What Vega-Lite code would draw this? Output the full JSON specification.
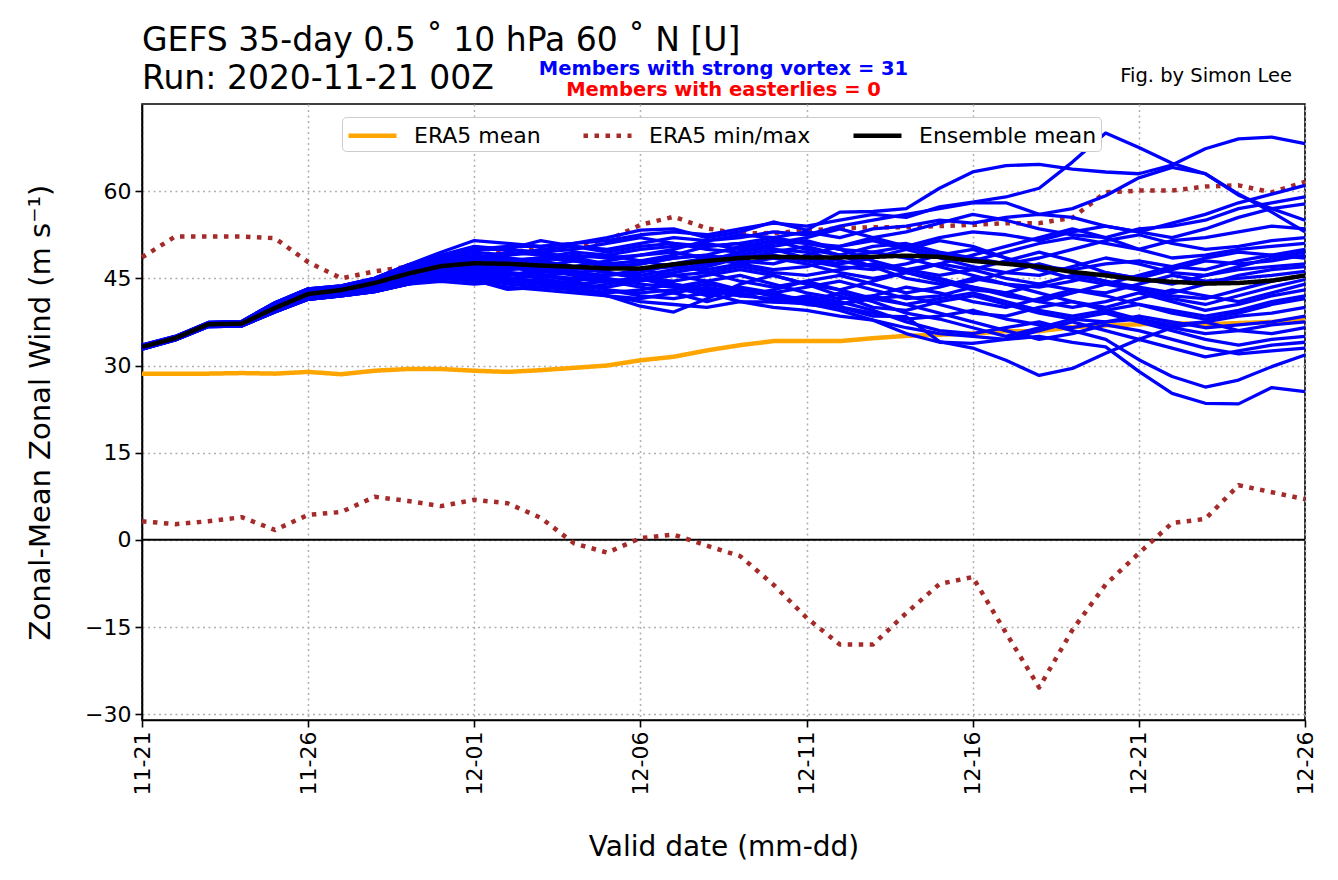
{
"$schema": "https://vega.github.io/schema/vega-lite/v6.json",
"width": 1163,
"height": 616,
"autosize": {"type": "none"},
"padding": {"left": 142, "top": 104, "right": 33, "bottom": 160},
"background": "white",
"config": {
  "font": "DejaVu Sans",
  "view": {"stroke": "black", "strokeWidth": 1.6},
  "axis": {"domainColor": "black", "domainWidth": 1.6, "tickColor": "black", "tickWidth": 1.6, "tickSize": 7, "labelFontSize": 22, "labelColor": "black", "labelFont": "DejaVu Sans", "titleFont": "DejaVu Sans", "titleFontSize": 28, "titleFontWeight": "normal", "titleColor": "black", "gridColor": "#b0b0b0", "gridDash": [2, 3.5], "gridWidth": 1.5, "labelPadding": 4}
},
"title": {"text": ["GEFS 35-day 0.5 \u02da 10 hPa 60 \u02da N [U]", "Run: 2020-11-21 00Z"], "anchor": "start", "frame": "group", "fontSize": 33, "fontWeight": "normal", "font": "DejaVu Sans", "color": "black", "lineHeight": 38, "offset": -37},
"datasets": {
"stats": [
{"series":"ERA5 mean","line":"ERA5 mean","date":"2020-11-21","u":28.6},{"series":"ERA5 mean","line":"ERA5 mean","date":"2020-11-22","u":28.6},{"series":"ERA5 mean","line":"ERA5 mean","date":"2020-11-23","u":28.6},{"series":"ERA5 mean","line":"ERA5 mean","date":"2020-11-24","u":28.7},{"series":"ERA5 mean","line":"ERA5 mean","date":"2020-11-25","u":28.6},{"series":"ERA5 mean","line":"ERA5 mean","date":"2020-11-26","u":28.9},{"series":"ERA5 mean","line":"ERA5 mean","date":"2020-11-27","u":28.5},{"series":"ERA5 mean","line":"ERA5 mean","date":"2020-11-28","u":29.1},{"series":"ERA5 mean","line":"ERA5 mean","date":"2020-11-29","u":29.4},{"series":"ERA5 mean","line":"ERA5 mean","date":"2020-11-30","u":29.4},{"series":"ERA5 mean","line":"ERA5 mean","date":"2020-12-01","u":29.1},{"series":"ERA5 mean","line":"ERA5 mean","date":"2020-12-02","u":28.9},{"series":"ERA5 mean","line":"ERA5 mean","date":"2020-12-03","u":29.2},{"series":"ERA5 mean","line":"ERA5 mean","date":"2020-12-04","u":29.6},{"series":"ERA5 mean","line":"ERA5 mean","date":"2020-12-05","u":30.0},{"series":"ERA5 mean","line":"ERA5 mean","date":"2020-12-06","u":30.9},{"series":"ERA5 mean","line":"ERA5 mean","date":"2020-12-07","u":31.5},{"series":"ERA5 mean","line":"ERA5 mean","date":"2020-12-08","u":32.6},{"series":"ERA5 mean","line":"ERA5 mean","date":"2020-12-09","u":33.5},{"series":"ERA5 mean","line":"ERA5 mean","date":"2020-12-10","u":34.2},{"series":"ERA5 mean","line":"ERA5 mean","date":"2020-12-11","u":34.2},{"series":"ERA5 mean","line":"ERA5 mean","date":"2020-12-12","u":34.2},{"series":"ERA5 mean","line":"ERA5 mean","date":"2020-12-13","u":34.7},{"series":"ERA5 mean","line":"ERA5 mean","date":"2020-12-14","u":35.1},{"series":"ERA5 mean","line":"ERA5 mean","date":"2020-12-15","u":35.3},{"series":"ERA5 mean","line":"ERA5 mean","date":"2020-12-16","u":35.5},{"series":"ERA5 mean","line":"ERA5 mean","date":"2020-12-17","u":35.9},{"series":"ERA5 mean","line":"ERA5 mean","date":"2020-12-18","u":35.9},{"series":"ERA5 mean","line":"ERA5 mean","date":"2020-12-19","u":36.6},{"series":"ERA5 mean","line":"ERA5 mean","date":"2020-12-20","u":36.9},{"series":"ERA5 mean","line":"ERA5 mean","date":"2020-12-21","u":37.1},{"series":"ERA5 mean","line":"ERA5 mean","date":"2020-12-22","u":37.3},{"series":"ERA5 mean","line":"ERA5 mean","date":"2020-12-23","u":37.1},{"series":"ERA5 mean","line":"ERA5 mean","date":"2020-12-24","u":37.3},{"series":"ERA5 mean","line":"ERA5 mean","date":"2020-12-25","u":37.5},{"series":"ERA5 mean","line":"ERA5 mean","date":"2020-12-26","u":37.8},
{"series":"ERA5 min/max","line":"ERA5 min","date":"2020-11-21","u":3.2},{"series":"ERA5 min/max","line":"ERA5 min","date":"2020-11-22","u":2.7},{"series":"ERA5 min/max","line":"ERA5 min","date":"2020-11-23","u":3.2},{"series":"ERA5 min/max","line":"ERA5 min","date":"2020-11-24","u":3.9},{"series":"ERA5 min/max","line":"ERA5 min","date":"2020-11-25","u":1.7},{"series":"ERA5 min/max","line":"ERA5 min","date":"2020-11-26","u":4.3},{"series":"ERA5 min/max","line":"ERA5 min","date":"2020-11-27","u":4.8},{"series":"ERA5 min/max","line":"ERA5 min","date":"2020-11-28","u":7.4},{"series":"ERA5 min/max","line":"ERA5 min","date":"2020-11-29","u":6.7},{"series":"ERA5 min/max","line":"ERA5 min","date":"2020-11-30","u":5.8},{"series":"ERA5 min/max","line":"ERA5 min","date":"2020-12-01","u":6.9},{"series":"ERA5 min/max","line":"ERA5 min","date":"2020-12-02","u":6.3},{"series":"ERA5 min/max","line":"ERA5 min","date":"2020-12-03","u":3.8},{"series":"ERA5 min/max","line":"ERA5 min","date":"2020-12-04","u":-0.6},{"series":"ERA5 min/max","line":"ERA5 min","date":"2020-12-05","u":-2.2},{"series":"ERA5 min/max","line":"ERA5 min","date":"2020-12-06","u":0.3},{"series":"ERA5 min/max","line":"ERA5 min","date":"2020-12-07","u":0.9},{"series":"ERA5 min/max","line":"ERA5 min","date":"2020-12-08","u":-1.0},{"series":"ERA5 min/max","line":"ERA5 min","date":"2020-12-09","u":-2.8},{"series":"ERA5 min/max","line":"ERA5 min","date":"2020-12-10","u":-7.7},{"series":"ERA5 min/max","line":"ERA5 min","date":"2020-12-11","u":-13.4},{"series":"ERA5 min/max","line":"ERA5 min","date":"2020-12-12","u":-18.0},{"series":"ERA5 min/max","line":"ERA5 min","date":"2020-12-13","u":-18.0},{"series":"ERA5 min/max","line":"ERA5 min","date":"2020-12-14","u":-12.6},{"series":"ERA5 min/max","line":"ERA5 min","date":"2020-12-15","u":-7.6},{"series":"ERA5 min/max","line":"ERA5 min","date":"2020-12-16","u":-6.4},{"series":"ERA5 min/max","line":"ERA5 min","date":"2020-12-17","u":-16.0},{"series":"ERA5 min/max","line":"ERA5 min","date":"2020-12-18","u":-25.4},{"series":"ERA5 min/max","line":"ERA5 min","date":"2020-12-19","u":-15.5},{"series":"ERA5 min/max","line":"ERA5 min","date":"2020-12-20","u":-7.7},{"series":"ERA5 min/max","line":"ERA5 min","date":"2020-12-21","u":-2.3},{"series":"ERA5 min/max","line":"ERA5 min","date":"2020-12-22","u":2.9},{"series":"ERA5 min/max","line":"ERA5 min","date":"2020-12-23","u":3.6},{"series":"ERA5 min/max","line":"ERA5 min","date":"2020-12-24","u":9.4},{"series":"ERA5 min/max","line":"ERA5 min","date":"2020-12-25","u":8.2},{"series":"ERA5 min/max","line":"ERA5 min","date":"2020-12-26","u":7.0},
{"series":"ERA5 min/max","line":"ERA5 max","date":"2020-11-21","u":48.6},{"series":"ERA5 min/max","line":"ERA5 max","date":"2020-11-22","u":52.2},{"series":"ERA5 min/max","line":"ERA5 max","date":"2020-11-23","u":52.2},{"series":"ERA5 min/max","line":"ERA5 max","date":"2020-11-24","u":52.2},{"series":"ERA5 min/max","line":"ERA5 max","date":"2020-11-25","u":51.9},{"series":"ERA5 min/max","line":"ERA5 max","date":"2020-11-26","u":47.8},{"series":"ERA5 min/max","line":"ERA5 max","date":"2020-11-27","u":45.0},{"series":"ERA5 min/max","line":"ERA5 max","date":"2020-11-28","u":46.2},{"series":"ERA5 min/max","line":"ERA5 max","date":"2020-11-29","u":47.0},{"series":"ERA5 min/max","line":"ERA5 max","date":"2020-11-30","u":48.0},{"series":"ERA5 min/max","line":"ERA5 max","date":"2020-12-01","u":49.0},{"series":"ERA5 min/max","line":"ERA5 max","date":"2020-12-02","u":49.5},{"series":"ERA5 min/max","line":"ERA5 max","date":"2020-12-03","u":50.0},{"series":"ERA5 min/max","line":"ERA5 max","date":"2020-12-04","u":50.5},{"series":"ERA5 min/max","line":"ERA5 max","date":"2020-12-05","u":51.5},{"series":"ERA5 min/max","line":"ERA5 max","date":"2020-12-06","u":54.2},{"series":"ERA5 min/max","line":"ERA5 max","date":"2020-12-07","u":55.6},{"series":"ERA5 min/max","line":"ERA5 max","date":"2020-12-08","u":53.6},{"series":"ERA5 min/max","line":"ERA5 max","date":"2020-12-09","u":52.7},{"series":"ERA5 min/max","line":"ERA5 max","date":"2020-12-10","u":52.8},{"series":"ERA5 min/max","line":"ERA5 max","date":"2020-12-11","u":53.2},{"series":"ERA5 min/max","line":"ERA5 max","date":"2020-12-12","u":53.6},{"series":"ERA5 min/max","line":"ERA5 max","date":"2020-12-13","u":53.8},{"series":"ERA5 min/max","line":"ERA5 max","date":"2020-12-14","u":53.8},{"series":"ERA5 min/max","line":"ERA5 max","date":"2020-12-15","u":54.0},{"series":"ERA5 min/max","line":"ERA5 max","date":"2020-12-16","u":54.2},{"series":"ERA5 min/max","line":"ERA5 max","date":"2020-12-17","u":54.5},{"series":"ERA5 min/max","line":"ERA5 max","date":"2020-12-18","u":54.5},{"series":"ERA5 min/max","line":"ERA5 max","date":"2020-12-19","u":55.4},{"series":"ERA5 min/max","line":"ERA5 max","date":"2020-12-20","u":59.8},{"series":"ERA5 min/max","line":"ERA5 max","date":"2020-12-21","u":60.1},{"series":"ERA5 min/max","line":"ERA5 max","date":"2020-12-22","u":60.1},{"series":"ERA5 min/max","line":"ERA5 max","date":"2020-12-23","u":60.8},{"series":"ERA5 min/max","line":"ERA5 max","date":"2020-12-24","u":61.0},{"series":"ERA5 min/max","line":"ERA5 max","date":"2020-12-25","u":59.8},{"series":"ERA5 min/max","line":"ERA5 max","date":"2020-12-26","u":61.6},
{"series":"Ensemble mean","line":"Ensemble mean","date":"2020-11-21","u":33.2},{"series":"Ensemble mean","line":"Ensemble mean","date":"2020-11-22","u":34.7},{"series":"Ensemble mean","line":"Ensemble mean","date":"2020-11-23","u":37.1},{"series":"Ensemble mean","line":"Ensemble mean","date":"2020-11-24","u":37.2},{"series":"Ensemble mean","line":"Ensemble mean","date":"2020-11-25","u":39.9},{"series":"Ensemble mean","line":"Ensemble mean","date":"2020-11-26","u":42.3},{"series":"Ensemble mean","line":"Ensemble mean","date":"2020-11-27","u":43.0},{"series":"Ensemble mean","line":"Ensemble mean","date":"2020-11-28","u":44.2},{"series":"Ensemble mean","line":"Ensemble mean","date":"2020-11-29","u":45.8},{"series":"Ensemble mean","line":"Ensemble mean","date":"2020-11-30","u":47.1},{"series":"Ensemble mean","line":"Ensemble mean","date":"2020-12-01","u":47.6},{"series":"Ensemble mean","line":"Ensemble mean","date":"2020-12-02","u":47.5},{"series":"Ensemble mean","line":"Ensemble mean","date":"2020-12-03","u":47.2},{"series":"Ensemble mean","line":"Ensemble mean","date":"2020-12-04","u":47.0},{"series":"Ensemble mean","line":"Ensemble mean","date":"2020-12-05","u":46.7},{"series":"Ensemble mean","line":"Ensemble mean","date":"2020-12-06","u":46.7},{"series":"Ensemble mean","line":"Ensemble mean","date":"2020-12-07","u":47.4},{"series":"Ensemble mean","line":"Ensemble mean","date":"2020-12-08","u":48.0},{"series":"Ensemble mean","line":"Ensemble mean","date":"2020-12-09","u":48.5},{"series":"Ensemble mean","line":"Ensemble mean","date":"2020-12-10","u":48.7},{"series":"Ensemble mean","line":"Ensemble mean","date":"2020-12-11","u":48.6},{"series":"Ensemble mean","line":"Ensemble mean","date":"2020-12-12","u":48.6},{"series":"Ensemble mean","line":"Ensemble mean","date":"2020-12-13","u":48.7},{"series":"Ensemble mean","line":"Ensemble mean","date":"2020-12-14","u":48.9},{"series":"Ensemble mean","line":"Ensemble mean","date":"2020-12-15","u":48.7},{"series":"Ensemble mean","line":"Ensemble mean","date":"2020-12-16","u":48.0},{"series":"Ensemble mean","line":"Ensemble mean","date":"2020-12-17","u":47.5},{"series":"Ensemble mean","line":"Ensemble mean","date":"2020-12-18","u":47.0},{"series":"Ensemble mean","line":"Ensemble mean","date":"2020-12-19","u":46.1},{"series":"Ensemble mean","line":"Ensemble mean","date":"2020-12-20","u":45.5},{"series":"Ensemble mean","line":"Ensemble mean","date":"2020-12-21","u":44.8},{"series":"Ensemble mean","line":"Ensemble mean","date":"2020-12-22","u":44.4},{"series":"Ensemble mean","line":"Ensemble mean","date":"2020-12-23","u":44.1},{"series":"Ensemble mean","line":"Ensemble mean","date":"2020-12-24","u":44.2},{"series":"Ensemble mean","line":"Ensemble mean","date":"2020-12-25","u":44.6},{"series":"Ensemble mean","line":"Ensemble mean","date":"2020-12-26","u":45.5}
],
"members": [
{"m":1,"date":"2020-11-21","u":33.5},{"m":1,"date":"2020-11-22","u":35.0},{"m":1,"date":"2020-11-23","u":37.4},{"m":1,"date":"2020-11-24","u":37.6},{"m":1,"date":"2020-11-25","u":40.8},{"m":1,"date":"2020-11-26","u":43.2},{"m":1,"date":"2020-11-27","u":43.7},{"m":1,"date":"2020-11-28","u":45.0},{"m":1,"date":"2020-11-29","u":47.3},{"m":1,"date":"2020-11-30","u":48.5},{"m":1,"date":"2020-12-01","u":50.0},{"m":1,"date":"2020-12-02","u":50.5},{"m":1,"date":"2020-12-03","u":50.5},{"m":1,"date":"2020-12-04","u":51.0},{"m":1,"date":"2020-12-05","u":51.5},{"m":1,"date":"2020-12-06","u":52.5},{"m":1,"date":"2020-12-07","u":53.0},{"m":1,"date":"2020-12-08","u":52.5},{"m":1,"date":"2020-12-09","u":53.5},{"m":1,"date":"2020-12-10","u":54.5},{"m":1,"date":"2020-12-11","u":54.0},{"m":1,"date":"2020-12-12","u":55.0},{"m":1,"date":"2020-12-13","u":56.0},{"m":1,"date":"2020-12-14","u":55.5},{"m":1,"date":"2020-12-15","u":57.3},{"m":1,"date":"2020-12-16","u":58.1},{"m":1,"date":"2020-12-17","u":59.0},{"m":1,"date":"2020-12-18","u":60.5},{"m":1,"date":"2020-12-19","u":65.0},{"m":1,"date":"2020-12-20","u":70.0},{"m":1,"date":"2020-12-21","u":67.5},{"m":1,"date":"2020-12-22","u":64.8},{"m":1,"date":"2020-12-23","u":63.0},{"m":1,"date":"2020-12-24","u":59.3},{"m":1,"date":"2020-12-25","u":57.0},{"m":1,"date":"2020-12-26","u":55.0},
{"m":2,"date":"2020-11-21","u":33.5},{"m":2,"date":"2020-11-22","u":35.0},{"m":2,"date":"2020-11-23","u":37.4},{"m":2,"date":"2020-11-24","u":37.6},{"m":2,"date":"2020-11-25","u":40.8},{"m":2,"date":"2020-11-26","u":43.2},{"m":2,"date":"2020-11-27","u":43.7},{"m":2,"date":"2020-11-28","u":45.0},{"m":2,"date":"2020-11-29","u":47.3},{"m":2,"date":"2020-11-30","u":49.5},{"m":2,"date":"2020-12-01","u":51.5},{"m":2,"date":"2020-12-02","u":51.0},{"m":2,"date":"2020-12-03","u":50.5},{"m":2,"date":"2020-12-04","u":51.0},{"m":2,"date":"2020-12-05","u":52.0},{"m":2,"date":"2020-12-06","u":53.3},{"m":2,"date":"2020-12-07","u":53.5},{"m":2,"date":"2020-12-08","u":52.0},{"m":2,"date":"2020-12-09","u":53.0},{"m":2,"date":"2020-12-10","u":54.7},{"m":2,"date":"2020-12-11","u":53.3},{"m":2,"date":"2020-12-12","u":56.4},{"m":2,"date":"2020-12-13","u":56.5},{"m":2,"date":"2020-12-14","u":57.0},{"m":2,"date":"2020-12-15","u":60.5},{"m":2,"date":"2020-12-16","u":63.3},{"m":2,"date":"2020-12-17","u":64.4},{"m":2,"date":"2020-12-18","u":64.6},{"m":2,"date":"2020-12-19","u":63.8},{"m":2,"date":"2020-12-20","u":63.3},{"m":2,"date":"2020-12-21","u":63.0},{"m":2,"date":"2020-12-22","u":64.5},{"m":2,"date":"2020-12-23","u":67.3},{"m":2,"date":"2020-12-24","u":69.0},{"m":2,"date":"2020-12-25","u":69.3},{"m":2,"date":"2020-12-26","u":68.2},
{"m":3,"date":"2020-11-21","u":33.4},{"m":3,"date":"2020-11-22","u":34.9},{"m":3,"date":"2020-11-23","u":37.3},{"m":3,"date":"2020-11-24","u":37.5},{"m":3,"date":"2020-11-25","u":40.6},{"m":3,"date":"2020-11-26","u":43.0},{"m":3,"date":"2020-11-27","u":43.5},{"m":3,"date":"2020-11-28","u":44.8},{"m":3,"date":"2020-11-29","u":46.9},{"m":3,"date":"2020-11-30","u":48.0},{"m":3,"date":"2020-12-01","u":49.5},{"m":3,"date":"2020-12-02","u":49.0},{"m":3,"date":"2020-12-03","u":50.0},{"m":3,"date":"2020-12-04","u":50.5},{"m":3,"date":"2020-12-05","u":50.0},{"m":3,"date":"2020-12-06","u":51.0},{"m":3,"date":"2020-12-07","u":52.0},{"m":3,"date":"2020-12-08","u":51.5},{"m":3,"date":"2020-12-09","u":52.0},{"m":3,"date":"2020-12-10","u":53.0},{"m":3,"date":"2020-12-11","u":52.5},{"m":3,"date":"2020-12-12","u":54.0},{"m":3,"date":"2020-12-13","u":55.0},{"m":3,"date":"2020-12-14","u":56.0},{"m":3,"date":"2020-12-15","u":57.0},{"m":3,"date":"2020-12-16","u":58.0},{"m":3,"date":"2020-12-17","u":58.0},{"m":3,"date":"2020-12-18","u":56.0},{"m":3,"date":"2020-12-19","u":57.0},{"m":3,"date":"2020-12-20","u":59.2},{"m":3,"date":"2020-12-21","u":62.3},{"m":3,"date":"2020-12-22","u":64.1},{"m":3,"date":"2020-12-23","u":63.0},{"m":3,"date":"2020-12-24","u":59.5},{"m":3,"date":"2020-12-25","u":56.4},{"m":3,"date":"2020-12-26","u":53.0},
{"m":4,"date":"2020-11-21","u":33.3},{"m":4,"date":"2020-11-22","u":34.8},{"m":4,"date":"2020-11-23","u":37.2},{"m":4,"date":"2020-11-24","u":37.4},{"m":4,"date":"2020-11-25","u":40.4},{"m":4,"date":"2020-11-26","u":42.7},{"m":4,"date":"2020-11-27","u":43.3},{"m":4,"date":"2020-11-28","u":44.6},{"m":4,"date":"2020-11-29","u":46.5},{"m":4,"date":"2020-11-30","u":48.5},{"m":4,"date":"2020-12-01","u":50.0},{"m":4,"date":"2020-12-02","u":50.0},{"m":4,"date":"2020-12-03","u":49.5},{"m":4,"date":"2020-12-04","u":50.0},{"m":4,"date":"2020-12-05","u":51.0},{"m":4,"date":"2020-12-06","u":52.0},{"m":4,"date":"2020-12-07","u":51.0},{"m":4,"date":"2020-12-08","u":50.5},{"m":4,"date":"2020-12-09","u":51.0},{"m":4,"date":"2020-12-10","u":52.0},{"m":4,"date":"2020-12-11","u":53.0},{"m":4,"date":"2020-12-12","u":52.0},{"m":4,"date":"2020-12-13","u":53.5},{"m":4,"date":"2020-12-14","u":54.0},{"m":4,"date":"2020-12-15","u":55.0},{"m":4,"date":"2020-12-16","u":54.5},{"m":4,"date":"2020-12-17","u":55.5},{"m":4,"date":"2020-12-18","u":56.0},{"m":4,"date":"2020-12-19","u":55.5},{"m":4,"date":"2020-12-20","u":54.0},{"m":4,"date":"2020-12-21","u":53.0},{"m":4,"date":"2020-12-22","u":54.5},{"m":4,"date":"2020-12-23","u":56.0},{"m":4,"date":"2020-12-24","u":58.0},{"m":4,"date":"2020-12-25","u":59.5},{"m":4,"date":"2020-12-26","u":61.0},
{"m":5,"date":"2020-11-21","u":33.4},{"m":5,"date":"2020-11-22","u":34.9},{"m":5,"date":"2020-11-23","u":37.3},{"m":5,"date":"2020-11-24","u":37.5},{"m":5,"date":"2020-11-25","u":40.6},{"m":5,"date":"2020-11-26","u":43.0},{"m":5,"date":"2020-11-27","u":43.5},{"m":5,"date":"2020-11-28","u":44.8},{"m":5,"date":"2020-11-29","u":46.9},{"m":5,"date":"2020-11-30","u":47.5},{"m":5,"date":"2020-12-01","u":48.5},{"m":5,"date":"2020-12-02","u":49.0},{"m":5,"date":"2020-12-03","u":49.5},{"m":5,"date":"2020-12-04","u":48.5},{"m":5,"date":"2020-12-05","u":49.0},{"m":5,"date":"2020-12-06","u":50.0},{"m":5,"date":"2020-12-07","u":50.5},{"m":5,"date":"2020-12-08","u":51.0},{"m":5,"date":"2020-12-09","u":50.0},{"m":5,"date":"2020-12-10","u":51.5},{"m":5,"date":"2020-12-11","u":51.0},{"m":5,"date":"2020-12-12","u":50.5},{"m":5,"date":"2020-12-13","u":52.0},{"m":5,"date":"2020-12-14","u":53.0},{"m":5,"date":"2020-12-15","u":54.5},{"m":5,"date":"2020-12-16","u":56.0},{"m":5,"date":"2020-12-17","u":55.0},{"m":5,"date":"2020-12-18","u":53.5},{"m":5,"date":"2020-12-19","u":52.5},{"m":5,"date":"2020-12-20","u":52.0},{"m":5,"date":"2020-12-21","u":53.5},{"m":5,"date":"2020-12-22","u":54.0},{"m":5,"date":"2020-12-23","u":55.0},{"m":5,"date":"2020-12-24","u":57.0},{"m":5,"date":"2020-12-25","u":58.0},{"m":5,"date":"2020-12-26","u":59.0},
{"m":6,"date":"2020-11-21","u":33.3},{"m":6,"date":"2020-11-22","u":34.8},{"m":6,"date":"2020-11-23","u":37.2},{"m":6,"date":"2020-11-24","u":37.3},{"m":6,"date":"2020-11-25","u":40.2},{"m":6,"date":"2020-11-26","u":42.5},{"m":6,"date":"2020-11-27","u":43.1},{"m":6,"date":"2020-11-28","u":44.3},{"m":6,"date":"2020-11-29","u":46.1},{"m":6,"date":"2020-11-30","u":47.0},{"m":6,"date":"2020-12-01","u":48.0},{"m":6,"date":"2020-12-02","u":48.5},{"m":6,"date":"2020-12-03","u":48.0},{"m":6,"date":"2020-12-04","u":49.0},{"m":6,"date":"2020-12-05","u":48.5},{"m":6,"date":"2020-12-06","u":49.0},{"m":6,"date":"2020-12-07","u":50.0},{"m":6,"date":"2020-12-08","u":51.5},{"m":6,"date":"2020-12-09","u":52.5},{"m":6,"date":"2020-12-10","u":52.0},{"m":6,"date":"2020-12-11","u":51.0},{"m":6,"date":"2020-12-12","u":50.0},{"m":6,"date":"2020-12-13","u":49.5},{"m":6,"date":"2020-12-14","u":50.5},{"m":6,"date":"2020-12-15","u":52.0},{"m":6,"date":"2020-12-16","u":53.0},{"m":6,"date":"2020-12-17","u":52.5},{"m":6,"date":"2020-12-18","u":51.5},{"m":6,"date":"2020-12-19","u":53.0},{"m":6,"date":"2020-12-20","u":54.0},{"m":6,"date":"2020-12-21","u":53.0},{"m":6,"date":"2020-12-22","u":52.0},{"m":6,"date":"2020-12-23","u":53.5},{"m":6,"date":"2020-12-24","u":55.5},{"m":6,"date":"2020-12-25","u":57.0},{"m":6,"date":"2020-12-26","u":57.8},
{"m":7,"date":"2020-11-21","u":33.5},{"m":7,"date":"2020-11-22","u":35.0},{"m":7,"date":"2020-11-23","u":37.4},{"m":7,"date":"2020-11-24","u":37.6},{"m":7,"date":"2020-11-25","u":40.8},{"m":7,"date":"2020-11-26","u":43.2},{"m":7,"date":"2020-11-27","u":43.7},{"m":7,"date":"2020-11-28","u":45.0},{"m":7,"date":"2020-11-29","u":47.3},{"m":7,"date":"2020-11-30","u":49.0},{"m":7,"date":"2020-12-01","u":50.5},{"m":7,"date":"2020-12-02","u":50.0},{"m":7,"date":"2020-12-03","u":51.5},{"m":7,"date":"2020-12-04","u":50.5},{"m":7,"date":"2020-12-05","u":49.5},{"m":7,"date":"2020-12-06","u":50.5},{"m":7,"date":"2020-12-07","u":51.0},{"m":7,"date":"2020-12-08","u":50.0},{"m":7,"date":"2020-12-09","u":49.5},{"m":7,"date":"2020-12-10","u":51.0},{"m":7,"date":"2020-12-11","u":52.0},{"m":7,"date":"2020-12-12","u":53.5},{"m":7,"date":"2020-12-13","u":52.0},{"m":7,"date":"2020-12-14","u":50.5},{"m":7,"date":"2020-12-15","u":49.0},{"m":7,"date":"2020-12-16","u":48.0},{"m":7,"date":"2020-12-17","u":49.5},{"m":7,"date":"2020-12-18","u":51.0},{"m":7,"date":"2020-12-19","u":52.0},{"m":7,"date":"2020-12-20","u":51.0},{"m":7,"date":"2020-12-21","u":50.0},{"m":7,"date":"2020-12-22","u":51.5},{"m":7,"date":"2020-12-23","u":52.0},{"m":7,"date":"2020-12-24","u":53.0},{"m":7,"date":"2020-12-25","u":54.0},{"m":7,"date":"2020-12-26","u":53.5},
{"m":8,"date":"2020-11-21","u":33.2},{"m":8,"date":"2020-11-22","u":34.7},{"m":8,"date":"2020-11-23","u":37.1},{"m":8,"date":"2020-11-24","u":37.2},{"m":8,"date":"2020-11-25","u":40.0},{"m":8,"date":"2020-11-26","u":42.3},{"m":8,"date":"2020-11-27","u":42.9},{"m":8,"date":"2020-11-28","u":44.0},{"m":8,"date":"2020-11-29","u":45.7},{"m":8,"date":"2020-11-30","u":46.5},{"m":8,"date":"2020-12-01","u":47.5},{"m":8,"date":"2020-12-02","u":48.0},{"m":8,"date":"2020-12-03","u":48.5},{"m":8,"date":"2020-12-04","u":48.0},{"m":8,"date":"2020-12-05","u":47.0},{"m":8,"date":"2020-12-06","u":47.5},{"m":8,"date":"2020-12-07","u":48.5},{"m":8,"date":"2020-12-08","u":49.0},{"m":8,"date":"2020-12-09","u":50.5},{"m":8,"date":"2020-12-10","u":51.5},{"m":8,"date":"2020-12-11","u":50.0},{"m":8,"date":"2020-12-12","u":49.0},{"m":8,"date":"2020-12-13","u":50.5},{"m":8,"date":"2020-12-14","u":51.0},{"m":8,"date":"2020-12-15","u":49.5},{"m":8,"date":"2020-12-16","u":48.5},{"m":8,"date":"2020-12-17","u":47.5},{"m":8,"date":"2020-12-18","u":48.5},{"m":8,"date":"2020-12-19","u":50.0},{"m":8,"date":"2020-12-20","u":51.5},{"m":8,"date":"2020-12-21","u":52.5},{"m":8,"date":"2020-12-22","u":51.0},{"m":8,"date":"2020-12-23","u":50.0},{"m":8,"date":"2020-12-24","u":50.5},{"m":8,"date":"2020-12-25","u":51.5},{"m":8,"date":"2020-12-26","u":52.0},
{"m":9,"date":"2020-11-21","u":33.3},{"m":9,"date":"2020-11-22","u":34.8},{"m":9,"date":"2020-11-23","u":37.2},{"m":9,"date":"2020-11-24","u":37.4},{"m":9,"date":"2020-11-25","u":40.4},{"m":9,"date":"2020-11-26","u":42.7},{"m":9,"date":"2020-11-27","u":43.3},{"m":9,"date":"2020-11-28","u":44.6},{"m":9,"date":"2020-11-29","u":46.5},{"m":9,"date":"2020-11-30","u":47.5},{"m":9,"date":"2020-12-01","u":49.0},{"m":9,"date":"2020-12-02","u":48.5},{"m":9,"date":"2020-12-03","u":47.5},{"m":9,"date":"2020-12-04","u":47.0},{"m":9,"date":"2020-12-05","u":48.0},{"m":9,"date":"2020-12-06","u":49.0},{"m":9,"date":"2020-12-07","u":49.5},{"m":9,"date":"2020-12-08","u":48.5},{"m":9,"date":"2020-12-09","u":49.0},{"m":9,"date":"2020-12-10","u":50.0},{"m":9,"date":"2020-12-11","u":49.5},{"m":9,"date":"2020-12-12","u":48.0},{"m":9,"date":"2020-12-13","u":47.0},{"m":9,"date":"2020-12-14","u":46.5},{"m":9,"date":"2020-12-15","u":47.5},{"m":9,"date":"2020-12-16","u":49.0},{"m":9,"date":"2020-12-17","u":50.5},{"m":9,"date":"2020-12-18","u":52.0},{"m":9,"date":"2020-12-19","u":53.5},{"m":9,"date":"2020-12-20","u":52.0},{"m":9,"date":"2020-12-21","u":50.0},{"m":9,"date":"2020-12-22","u":48.5},{"m":9,"date":"2020-12-23","u":49.0},{"m":9,"date":"2020-12-24","u":50.0},{"m":9,"date":"2020-12-25","u":50.5},{"m":9,"date":"2020-12-26","u":51.0},
{"m":10,"date":"2020-11-21","u":33.3},{"m":10,"date":"2020-11-22","u":34.8},{"m":10,"date":"2020-11-23","u":37.2},{"m":10,"date":"2020-11-24","u":37.3},{"m":10,"date":"2020-11-25","u":40.2},{"m":10,"date":"2020-11-26","u":42.5},{"m":10,"date":"2020-11-27","u":43.1},{"m":10,"date":"2020-11-28","u":44.3},{"m":10,"date":"2020-11-29","u":46.1},{"m":10,"date":"2020-11-30","u":47.0},{"m":10,"date":"2020-12-01","u":47.0},{"m":10,"date":"2020-12-02","u":46.5},{"m":10,"date":"2020-12-03","u":47.0},{"m":10,"date":"2020-12-04","u":48.0},{"m":10,"date":"2020-12-05","u":47.5},{"m":10,"date":"2020-12-06","u":48.0},{"m":10,"date":"2020-12-07","u":49.0},{"m":10,"date":"2020-12-08","u":50.5},{"m":10,"date":"2020-12-09","u":51.0},{"m":10,"date":"2020-12-10","u":50.0},{"m":10,"date":"2020-12-11","u":48.5},{"m":10,"date":"2020-12-12","u":47.5},{"m":10,"date":"2020-12-13","u":48.5},{"m":10,"date":"2020-12-14","u":50.0},{"m":10,"date":"2020-12-15","u":51.5},{"m":10,"date":"2020-12-16","u":50.5},{"m":10,"date":"2020-12-17","u":48.5},{"m":10,"date":"2020-12-18","u":47.0},{"m":10,"date":"2020-12-19","u":46.5},{"m":10,"date":"2020-12-20","u":47.5},{"m":10,"date":"2020-12-21","u":48.0},{"m":10,"date":"2020-12-22","u":47.0},{"m":10,"date":"2020-12-23","u":46.5},{"m":10,"date":"2020-12-24","u":48.0},{"m":10,"date":"2020-12-25","u":49.0},{"m":10,"date":"2020-12-26","u":50.0},
{"m":11,"date":"2020-11-21","u":33.1},{"m":11,"date":"2020-11-22","u":34.7},{"m":11,"date":"2020-11-23","u":37.0},{"m":11,"date":"2020-11-24","u":37.1},{"m":11,"date":"2020-11-25","u":39.8},{"m":11,"date":"2020-11-26","u":42.1},{"m":11,"date":"2020-11-27","u":42.7},{"m":11,"date":"2020-11-28","u":43.7},{"m":11,"date":"2020-11-29","u":45.3},{"m":11,"date":"2020-11-30","u":46.0},{"m":11,"date":"2020-12-01","u":46.5},{"m":11,"date":"2020-12-02","u":47.0},{"m":11,"date":"2020-12-03","u":46.5},{"m":11,"date":"2020-12-04","u":46.0},{"m":11,"date":"2020-12-05","u":46.5},{"m":11,"date":"2020-12-06","u":47.5},{"m":11,"date":"2020-12-07","u":48.5},{"m":11,"date":"2020-12-08","u":49.0},{"m":11,"date":"2020-12-09","u":48.0},{"m":11,"date":"2020-12-10","u":47.5},{"m":11,"date":"2020-12-11","u":49.0},{"m":11,"date":"2020-12-12","u":50.5},{"m":11,"date":"2020-12-13","u":51.5},{"m":11,"date":"2020-12-14","u":50.0},{"m":11,"date":"2020-12-15","u":48.5},{"m":11,"date":"2020-12-16","u":47.0},{"m":11,"date":"2020-12-17","u":46.0},{"m":11,"date":"2020-12-18","u":45.5},{"m":11,"date":"2020-12-19","u":47.0},{"m":11,"date":"2020-12-20","u":48.5},{"m":11,"date":"2020-12-21","u":47.5},{"m":11,"date":"2020-12-22","u":46.0},{"m":11,"date":"2020-12-23","u":45.5},{"m":11,"date":"2020-12-24","u":47.0},{"m":11,"date":"2020-12-25","u":48.5},{"m":11,"date":"2020-12-26","u":49.5},
{"m":12,"date":"2020-11-21","u":33.2},{"m":12,"date":"2020-11-22","u":34.7},{"m":12,"date":"2020-11-23","u":37.1},{"m":12,"date":"2020-11-24","u":37.2},{"m":12,"date":"2020-11-25","u":40.0},{"m":12,"date":"2020-11-26","u":42.3},{"m":12,"date":"2020-11-27","u":42.9},{"m":12,"date":"2020-11-28","u":44.0},{"m":12,"date":"2020-11-29","u":45.7},{"m":12,"date":"2020-11-30","u":46.5},{"m":12,"date":"2020-12-01","u":47.5},{"m":12,"date":"2020-12-02","u":47.0},{"m":12,"date":"2020-12-03","u":46.0},{"m":12,"date":"2020-12-04","u":46.5},{"m":12,"date":"2020-12-05","u":47.0},{"m":12,"date":"2020-12-06","u":46.5},{"m":12,"date":"2020-12-07","u":47.0},{"m":12,"date":"2020-12-08","u":48.0},{"m":12,"date":"2020-12-09","u":49.5},{"m":12,"date":"2020-12-10","u":50.5},{"m":12,"date":"2020-12-11","u":51.5},{"m":12,"date":"2020-12-12","u":50.0},{"m":12,"date":"2020-12-13","u":48.0},{"m":12,"date":"2020-12-14","u":46.5},{"m":12,"date":"2020-12-15","u":45.5},{"m":12,"date":"2020-12-16","u":46.5},{"m":12,"date":"2020-12-17","u":48.0},{"m":12,"date":"2020-12-18","u":49.5},{"m":12,"date":"2020-12-19","u":48.0},{"m":12,"date":"2020-12-20","u":46.0},{"m":12,"date":"2020-12-21","u":45.0},{"m":12,"date":"2020-12-22","u":46.5},{"m":12,"date":"2020-12-23","u":48.0},{"m":12,"date":"2020-12-24","u":47.5},{"m":12,"date":"2020-12-25","u":48.0},{"m":12,"date":"2020-12-26","u":49.0},
{"m":13,"date":"2020-11-21","u":33.0},{"m":13,"date":"2020-11-22","u":34.6},{"m":13,"date":"2020-11-23","u":36.9},{"m":13,"date":"2020-11-24","u":37.0},{"m":13,"date":"2020-11-25","u":39.6},{"m":13,"date":"2020-11-26","u":41.9},{"m":13,"date":"2020-11-27","u":42.5},{"m":13,"date":"2020-11-28","u":43.4},{"m":13,"date":"2020-11-29","u":44.9},{"m":13,"date":"2020-11-30","u":45.5},{"m":13,"date":"2020-12-01","u":46.0},{"m":13,"date":"2020-12-02","u":46.5},{"m":13,"date":"2020-12-03","u":47.5},{"m":13,"date":"2020-12-04","u":47.0},{"m":13,"date":"2020-12-05","u":46.0},{"m":13,"date":"2020-12-06","u":45.5},{"m":13,"date":"2020-12-07","u":46.5},{"m":13,"date":"2020-12-08","u":47.5},{"m":13,"date":"2020-12-09","u":48.5},{"m":13,"date":"2020-12-10","u":49.0},{"m":13,"date":"2020-12-11","u":48.0},{"m":13,"date":"2020-12-12","u":47.0},{"m":13,"date":"2020-12-13","u":46.5},{"m":13,"date":"2020-12-14","u":47.5},{"m":13,"date":"2020-12-15","u":49.0},{"m":13,"date":"2020-12-16","u":50.0},{"m":13,"date":"2020-12-17","u":48.5},{"m":13,"date":"2020-12-18","u":46.5},{"m":13,"date":"2020-12-19","u":45.0},{"m":13,"date":"2020-12-20","u":44.0},{"m":13,"date":"2020-12-21","u":45.5},{"m":13,"date":"2020-12-22","u":47.0},{"m":13,"date":"2020-12-23","u":48.5},{"m":13,"date":"2020-12-24","u":49.5},{"m":13,"date":"2020-12-25","u":49.0},{"m":13,"date":"2020-12-26","u":48.5},
{"m":14,"date":"2020-11-21","u":33.2},{"m":14,"date":"2020-11-22","u":34.7},{"m":14,"date":"2020-11-23","u":37.1},{"m":14,"date":"2020-11-24","u":37.2},{"m":14,"date":"2020-11-25","u":40.0},{"m":14,"date":"2020-11-26","u":42.3},{"m":14,"date":"2020-11-27","u":42.9},{"m":14,"date":"2020-11-28","u":44.0},{"m":14,"date":"2020-11-29","u":45.7},{"m":14,"date":"2020-11-30","u":46.0},{"m":14,"date":"2020-12-01","u":46.5},{"m":14,"date":"2020-12-02","u":46.0},{"m":14,"date":"2020-12-03","u":45.5},{"m":14,"date":"2020-12-04","u":46.0},{"m":14,"date":"2020-12-05","u":45.5},{"m":14,"date":"2020-12-06","u":46.0},{"m":14,"date":"2020-12-07","u":47.5},{"m":14,"date":"2020-12-08","u":48.5},{"m":14,"date":"2020-12-09","u":47.5},{"m":14,"date":"2020-12-10","u":46.5},{"m":14,"date":"2020-12-11","u":47.0},{"m":14,"date":"2020-12-12","u":48.5},{"m":14,"date":"2020-12-13","u":49.5},{"m":14,"date":"2020-12-14","u":48.5},{"m":14,"date":"2020-12-15","u":47.0},{"m":14,"date":"2020-12-16","u":45.5},{"m":14,"date":"2020-12-17","u":44.0},{"m":14,"date":"2020-12-18","u":43.5},{"m":14,"date":"2020-12-19","u":44.5},{"m":14,"date":"2020-12-20","u":46.0},{"m":14,"date":"2020-12-21","u":45.0},{"m":14,"date":"2020-12-22","u":44.0},{"m":14,"date":"2020-12-23","u":45.5},{"m":14,"date":"2020-12-24","u":46.5},{"m":14,"date":"2020-12-25","u":47.0},{"m":14,"date":"2020-12-26","u":47.5},
{"m":15,"date":"2020-11-21","u":32.9},{"m":15,"date":"2020-11-22","u":34.5},{"m":15,"date":"2020-11-23","u":36.8},{"m":15,"date":"2020-11-24","u":36.9},{"m":15,"date":"2020-11-25","u":39.4},{"m":15,"date":"2020-11-26","u":41.6},{"m":15,"date":"2020-11-27","u":42.2},{"m":15,"date":"2020-11-28","u":43.0},{"m":15,"date":"2020-11-29","u":44.4},{"m":15,"date":"2020-11-30","u":45.5},{"m":15,"date":"2020-12-01","u":45.5},{"m":15,"date":"2020-12-02","u":45.0},{"m":15,"date":"2020-12-03","u":45.5},{"m":15,"date":"2020-12-04","u":45.0},{"m":15,"date":"2020-12-05","u":44.5},{"m":15,"date":"2020-12-06","u":45.0},{"m":15,"date":"2020-12-07","u":46.0},{"m":15,"date":"2020-12-08","u":47.0},{"m":15,"date":"2020-12-09","u":48.5},{"m":15,"date":"2020-12-10","u":49.5},{"m":15,"date":"2020-12-11","u":50.5},{"m":15,"date":"2020-12-12","u":49.0},{"m":15,"date":"2020-12-13","u":47.0},{"m":15,"date":"2020-12-14","u":45.0},{"m":15,"date":"2020-12-15","u":44.0},{"m":15,"date":"2020-12-16","u":44.5},{"m":15,"date":"2020-12-17","u":46.0},{"m":15,"date":"2020-12-18","u":47.5},{"m":15,"date":"2020-12-19","u":46.0},{"m":15,"date":"2020-12-20","u":44.5},{"m":15,"date":"2020-12-21","u":43.5},{"m":15,"date":"2020-12-22","u":42.5},{"m":15,"date":"2020-12-23","u":44.0},{"m":15,"date":"2020-12-24","u":45.5},{"m":15,"date":"2020-12-25","u":46.5},{"m":15,"date":"2020-12-26","u":47.0},
{"m":16,"date":"2020-11-21","u":33.3},{"m":16,"date":"2020-11-22","u":34.8},{"m":16,"date":"2020-11-23","u":37.2},{"m":16,"date":"2020-11-24","u":37.4},{"m":16,"date":"2020-11-25","u":40.4},{"m":16,"date":"2020-11-26","u":42.7},{"m":16,"date":"2020-11-27","u":43.3},{"m":16,"date":"2020-11-28","u":44.6},{"m":16,"date":"2020-11-29","u":46.5},{"m":16,"date":"2020-11-30","u":48.0},{"m":16,"date":"2020-12-01","u":48.5},{"m":16,"date":"2020-12-02","u":48.0},{"m":16,"date":"2020-12-03","u":48.5},{"m":16,"date":"2020-12-04","u":49.5},{"m":16,"date":"2020-12-05","u":49.0},{"m":16,"date":"2020-12-06","u":48.0},{"m":16,"date":"2020-12-07","u":47.0},{"m":16,"date":"2020-12-08","u":46.5},{"m":16,"date":"2020-12-09","u":47.5},{"m":16,"date":"2020-12-10","u":48.5},{"m":16,"date":"2020-12-11","u":47.5},{"m":16,"date":"2020-12-12","u":46.0},{"m":16,"date":"2020-12-13","u":45.0},{"m":16,"date":"2020-12-14","u":46.0},{"m":16,"date":"2020-12-15","u":47.5},{"m":16,"date":"2020-12-16","u":46.5},{"m":16,"date":"2020-12-17","u":45.0},{"m":16,"date":"2020-12-18","u":44.0},{"m":16,"date":"2020-12-19","u":43.0},{"m":16,"date":"2020-12-20","u":42.5},{"m":16,"date":"2020-12-21","u":44.0},{"m":16,"date":"2020-12-22","u":45.5},{"m":16,"date":"2020-12-23","u":44.5},{"m":16,"date":"2020-12-24","u":45.0},{"m":16,"date":"2020-12-25","u":45.5},{"m":16,"date":"2020-12-26","u":46.2},
{"m":17,"date":"2020-11-21","u":33.3},{"m":17,"date":"2020-11-22","u":34.8},{"m":17,"date":"2020-11-23","u":37.2},{"m":17,"date":"2020-11-24","u":37.3},{"m":17,"date":"2020-11-25","u":40.2},{"m":17,"date":"2020-11-26","u":42.5},{"m":17,"date":"2020-11-27","u":43.1},{"m":17,"date":"2020-11-28","u":44.3},{"m":17,"date":"2020-11-29","u":46.1},{"m":17,"date":"2020-11-30","u":47.0},{"m":17,"date":"2020-12-01","u":48.5},{"m":17,"date":"2020-12-02","u":49.5},{"m":17,"date":"2020-12-03","u":49.0},{"m":17,"date":"2020-12-04","u":48.5},{"m":17,"date":"2020-12-05","u":47.5},{"m":17,"date":"2020-12-06","u":46.5},{"m":17,"date":"2020-12-07","u":45.5},{"m":17,"date":"2020-12-08","u":46.0},{"m":17,"date":"2020-12-09","u":47.0},{"m":17,"date":"2020-12-10","u":46.0},{"m":17,"date":"2020-12-11","u":45.5},{"m":17,"date":"2020-12-12","u":46.5},{"m":17,"date":"2020-12-13","u":47.5},{"m":17,"date":"2020-12-14","u":46.0},{"m":17,"date":"2020-12-15","u":44.5},{"m":17,"date":"2020-12-16","u":43.0},{"m":17,"date":"2020-12-17","u":42.5},{"m":17,"date":"2020-12-18","u":44.0},{"m":17,"date":"2020-12-19","u":45.5},{"m":17,"date":"2020-12-20","u":44.5},{"m":17,"date":"2020-12-21","u":43.0},{"m":17,"date":"2020-12-22","u":42.0},{"m":17,"date":"2020-12-23","u":41.5},{"m":17,"date":"2020-12-24","u":43.0},{"m":17,"date":"2020-12-25","u":44.5},{"m":17,"date":"2020-12-26","u":45.5},
{"m":18,"date":"2020-11-21","u":33.1},{"m":18,"date":"2020-11-22","u":34.7},{"m":18,"date":"2020-11-23","u":37.0},{"m":18,"date":"2020-11-24","u":37.1},{"m":18,"date":"2020-11-25","u":39.8},{"m":18,"date":"2020-11-26","u":42.1},{"m":18,"date":"2020-11-27","u":42.7},{"m":18,"date":"2020-11-28","u":43.7},{"m":18,"date":"2020-11-29","u":45.3},{"m":18,"date":"2020-11-30","u":46.0},{"m":18,"date":"2020-12-01","u":47.0},{"m":18,"date":"2020-12-02","u":47.5},{"m":18,"date":"2020-12-03","u":48.0},{"m":18,"date":"2020-12-04","u":47.0},{"m":18,"date":"2020-12-05","u":46.0},{"m":18,"date":"2020-12-06","u":45.0},{"m":18,"date":"2020-12-07","u":44.5},{"m":18,"date":"2020-12-08","u":45.5},{"m":18,"date":"2020-12-09","u":46.5},{"m":18,"date":"2020-12-10","u":45.5},{"m":18,"date":"2020-12-11","u":44.0},{"m":18,"date":"2020-12-12","u":43.0},{"m":18,"date":"2020-12-13","u":44.5},{"m":18,"date":"2020-12-14","u":46.0},{"m":18,"date":"2020-12-15","u":45.0},{"m":18,"date":"2020-12-16","u":43.5},{"m":18,"date":"2020-12-17","u":42.0},{"m":18,"date":"2020-12-18","u":41.0},{"m":18,"date":"2020-12-19","u":42.5},{"m":18,"date":"2020-12-20","u":44.0},{"m":18,"date":"2020-12-21","u":43.0},{"m":18,"date":"2020-12-22","u":41.5},{"m":18,"date":"2020-12-23","u":40.5},{"m":18,"date":"2020-12-24","u":42.0},{"m":18,"date":"2020-12-25","u":43.5},{"m":18,"date":"2020-12-26","u":44.8},
{"m":19,"date":"2020-11-21","u":32.8},{"m":19,"date":"2020-11-22","u":34.4},{"m":19,"date":"2020-11-23","u":36.7},{"m":19,"date":"2020-11-24","u":36.8},{"m":19,"date":"2020-11-25","u":39.2},{"m":19,"date":"2020-11-26","u":41.4},{"m":19,"date":"2020-11-27","u":42.0},{"m":19,"date":"2020-11-28","u":42.7},{"m":19,"date":"2020-11-29","u":44.0},{"m":19,"date":"2020-11-30","u":45.0},{"m":19,"date":"2020-12-01","u":45.0},{"m":19,"date":"2020-12-02","u":44.5},{"m":19,"date":"2020-12-03","u":44.0},{"m":19,"date":"2020-12-04","u":44.5},{"m":19,"date":"2020-12-05","u":45.5},{"m":19,"date":"2020-12-06","u":46.5},{"m":19,"date":"2020-12-07","u":47.5},{"m":19,"date":"2020-12-08","u":46.0},{"m":19,"date":"2020-12-09","u":44.5},{"m":19,"date":"2020-12-10","u":43.5},{"m":19,"date":"2020-12-11","u":44.5},{"m":19,"date":"2020-12-12","u":45.5},{"m":19,"date":"2020-12-13","u":44.0},{"m":19,"date":"2020-12-14","u":42.5},{"m":19,"date":"2020-12-15","u":43.5},{"m":19,"date":"2020-12-16","u":45.0},{"m":19,"date":"2020-12-17","u":44.0},{"m":19,"date":"2020-12-18","u":42.5},{"m":19,"date":"2020-12-19","u":41.0},{"m":19,"date":"2020-12-20","u":40.0},{"m":19,"date":"2020-12-21","u":41.5},{"m":19,"date":"2020-12-22","u":43.0},{"m":19,"date":"2020-12-23","u":42.0},{"m":19,"date":"2020-12-24","u":41.0},{"m":19,"date":"2020-12-25","u":42.5},{"m":19,"date":"2020-12-26","u":44.0},
{"m":20,"date":"2020-11-21","u":33.0},{"m":20,"date":"2020-11-22","u":34.6},{"m":20,"date":"2020-11-23","u":36.9},{"m":20,"date":"2020-11-24","u":37.0},{"m":20,"date":"2020-11-25","u":39.6},{"m":20,"date":"2020-11-26","u":41.9},{"m":20,"date":"2020-11-27","u":42.5},{"m":20,"date":"2020-11-28","u":43.4},{"m":20,"date":"2020-11-29","u":44.9},{"m":20,"date":"2020-11-30","u":46.5},{"m":20,"date":"2020-12-01","u":47.0},{"m":20,"date":"2020-12-02","u":46.0},{"m":20,"date":"2020-12-03","u":45.0},{"m":20,"date":"2020-12-04","u":44.0},{"m":20,"date":"2020-12-05","u":43.5},{"m":20,"date":"2020-12-06","u":44.5},{"m":20,"date":"2020-12-07","u":45.5},{"m":20,"date":"2020-12-08","u":44.5},{"m":20,"date":"2020-12-09","u":43.0},{"m":20,"date":"2020-12-10","u":42.5},{"m":20,"date":"2020-12-11","u":43.5},{"m":20,"date":"2020-12-12","u":44.5},{"m":20,"date":"2020-12-13","u":43.0},{"m":20,"date":"2020-12-14","u":41.5},{"m":20,"date":"2020-12-15","u":42.0},{"m":20,"date":"2020-12-16","u":43.5},{"m":20,"date":"2020-12-17","u":42.5},{"m":20,"date":"2020-12-18","u":41.0},{"m":20,"date":"2020-12-19","u":40.0},{"m":20,"date":"2020-12-20","u":41.0},{"m":20,"date":"2020-12-21","u":42.5},{"m":20,"date":"2020-12-22","u":41.0},{"m":20,"date":"2020-12-23","u":39.5},{"m":20,"date":"2020-12-24","u":40.5},{"m":20,"date":"2020-12-25","u":42.0},{"m":20,"date":"2020-12-26","u":43.0},
{"m":21,"date":"2020-11-21","u":32.9},{"m":21,"date":"2020-11-22","u":34.5},{"m":21,"date":"2020-11-23","u":36.8},{"m":21,"date":"2020-11-24","u":36.9},{"m":21,"date":"2020-11-25","u":39.4},{"m":21,"date":"2020-11-26","u":41.6},{"m":21,"date":"2020-11-27","u":42.2},{"m":21,"date":"2020-11-28","u":43.0},{"m":21,"date":"2020-11-29","u":44.4},{"m":21,"date":"2020-11-30","u":45.0},{"m":21,"date":"2020-12-01","u":45.5},{"m":21,"date":"2020-12-02","u":45.0},{"m":21,"date":"2020-12-03","u":44.5},{"m":21,"date":"2020-12-04","u":43.5},{"m":21,"date":"2020-12-05","u":42.5},{"m":21,"date":"2020-12-06","u":43.0},{"m":21,"date":"2020-12-07","u":44.0},{"m":21,"date":"2020-12-08","u":43.0},{"m":21,"date":"2020-12-09","u":42.0},{"m":21,"date":"2020-12-10","u":43.0},{"m":21,"date":"2020-12-11","u":44.5},{"m":21,"date":"2020-12-12","u":43.0},{"m":21,"date":"2020-12-13","u":41.5},{"m":21,"date":"2020-12-14","u":40.5},{"m":21,"date":"2020-12-15","u":41.5},{"m":21,"date":"2020-12-16","u":42.5},{"m":21,"date":"2020-12-17","u":41.0},{"m":21,"date":"2020-12-18","u":39.5},{"m":21,"date":"2020-12-19","u":38.5},{"m":21,"date":"2020-12-20","u":39.5},{"m":21,"date":"2020-12-21","u":40.5},{"m":21,"date":"2020-12-22","u":39.5},{"m":21,"date":"2020-12-23","u":38.5},{"m":21,"date":"2020-12-24","u":39.5},{"m":21,"date":"2020-12-25","u":41.0},{"m":21,"date":"2020-12-26","u":42.0},
{"m":22,"date":"2020-11-21","u":33.2},{"m":22,"date":"2020-11-22","u":34.7},{"m":22,"date":"2020-11-23","u":37.1},{"m":22,"date":"2020-11-24","u":37.2},{"m":22,"date":"2020-11-25","u":40.0},{"m":22,"date":"2020-11-26","u":42.3},{"m":22,"date":"2020-11-27","u":42.9},{"m":22,"date":"2020-11-28","u":44.0},{"m":22,"date":"2020-11-29","u":45.7},{"m":22,"date":"2020-11-30","u":47.0},{"m":22,"date":"2020-12-01","u":47.5},{"m":22,"date":"2020-12-02","u":46.5},{"m":22,"date":"2020-12-03","u":47.0},{"m":22,"date":"2020-12-04","u":46.0},{"m":22,"date":"2020-12-05","u":45.0},{"m":22,"date":"2020-12-06","u":44.0},{"m":22,"date":"2020-12-07","u":43.5},{"m":22,"date":"2020-12-08","u":44.5},{"m":22,"date":"2020-12-09","u":45.5},{"m":22,"date":"2020-12-10","u":44.0},{"m":22,"date":"2020-12-11","u":42.5},{"m":22,"date":"2020-12-12","u":41.5},{"m":22,"date":"2020-12-13","u":42.0},{"m":22,"date":"2020-12-14","u":43.5},{"m":22,"date":"2020-12-15","u":42.5},{"m":22,"date":"2020-12-16","u":41.0},{"m":22,"date":"2020-12-17","u":40.0},{"m":22,"date":"2020-12-18","u":41.5},{"m":22,"date":"2020-12-19","u":43.0},{"m":22,"date":"2020-12-20","u":42.0},{"m":22,"date":"2020-12-21","u":40.5},{"m":22,"date":"2020-12-22","u":39.0},{"m":22,"date":"2020-12-23","u":38.0},{"m":22,"date":"2020-12-24","u":39.0},{"m":22,"date":"2020-12-25","u":40.5},{"m":22,"date":"2020-12-26","u":41.5},
{"m":23,"date":"2020-11-21","u":32.8},{"m":23,"date":"2020-11-22","u":34.4},{"m":23,"date":"2020-11-23","u":36.7},{"m":23,"date":"2020-11-24","u":36.8},{"m":23,"date":"2020-11-25","u":39.2},{"m":23,"date":"2020-11-26","u":41.4},{"m":23,"date":"2020-11-27","u":42.0},{"m":23,"date":"2020-11-28","u":42.7},{"m":23,"date":"2020-11-29","u":44.0},{"m":23,"date":"2020-11-30","u":45.5},{"m":23,"date":"2020-12-01","u":44.7},{"m":23,"date":"2020-12-02","u":43.1},{"m":23,"date":"2020-12-03","u":43.5},{"m":23,"date":"2020-12-04","u":44.0},{"m":23,"date":"2020-12-05","u":43.0},{"m":23,"date":"2020-12-06","u":42.0},{"m":23,"date":"2020-12-07","u":41.5},{"m":23,"date":"2020-12-08","u":42.5},{"m":23,"date":"2020-12-09","u":43.5},{"m":23,"date":"2020-12-10","u":42.5},{"m":23,"date":"2020-12-11","u":41.0},{"m":23,"date":"2020-12-12","u":40.5},{"m":23,"date":"2020-12-13","u":41.5},{"m":23,"date":"2020-12-14","u":42.0},{"m":23,"date":"2020-12-15","u":40.5},{"m":23,"date":"2020-12-16","u":39.0},{"m":23,"date":"2020-12-17","u":38.5},{"m":23,"date":"2020-12-18","u":40.0},{"m":23,"date":"2020-12-19","u":41.0},{"m":23,"date":"2020-12-20","u":39.5},{"m":23,"date":"2020-12-21","u":38.0},{"m":23,"date":"2020-12-22","u":37.0},{"m":23,"date":"2020-12-23","u":37.5},{"m":23,"date":"2020-12-24","u":38.5},{"m":23,"date":"2020-12-25","u":39.0},{"m":23,"date":"2020-12-26","u":40.0},
{"m":24,"date":"2020-11-21","u":33.0},{"m":24,"date":"2020-11-22","u":34.6},{"m":24,"date":"2020-11-23","u":36.9},{"m":24,"date":"2020-11-24","u":37.0},{"m":24,"date":"2020-11-25","u":39.6},{"m":24,"date":"2020-11-26","u":41.9},{"m":24,"date":"2020-11-27","u":42.5},{"m":24,"date":"2020-11-28","u":43.4},{"m":24,"date":"2020-11-29","u":44.9},{"m":24,"date":"2020-11-30","u":46.0},{"m":24,"date":"2020-12-01","u":46.5},{"m":24,"date":"2020-12-02","u":46.0},{"m":24,"date":"2020-12-03","u":45.0},{"m":24,"date":"2020-12-04","u":43.5},{"m":24,"date":"2020-12-05","u":42.0},{"m":24,"date":"2020-12-06","u":40.2},{"m":24,"date":"2020-12-07","u":39.2},{"m":24,"date":"2020-12-08","u":41.5},{"m":24,"date":"2020-12-09","u":44.0},{"m":24,"date":"2020-12-10","u":45.5},{"m":24,"date":"2020-12-11","u":44.0},{"m":24,"date":"2020-12-12","u":42.0},{"m":24,"date":"2020-12-13","u":40.0},{"m":24,"date":"2020-12-14","u":39.5},{"m":24,"date":"2020-12-15","u":41.0},{"m":24,"date":"2020-12-16","u":42.0},{"m":24,"date":"2020-12-17","u":40.5},{"m":24,"date":"2020-12-18","u":39.0},{"m":24,"date":"2020-12-19","u":38.0},{"m":24,"date":"2020-12-20","u":37.5},{"m":24,"date":"2020-12-21","u":38.5},{"m":24,"date":"2020-12-22","u":37.5},{"m":24,"date":"2020-12-23","u":36.5},{"m":24,"date":"2020-12-24","u":37.0},{"m":24,"date":"2020-12-25","u":37.5},{"m":24,"date":"2020-12-26","u":38.5},
{"m":25,"date":"2020-11-21","u":32.8},{"m":25,"date":"2020-11-22","u":34.4},{"m":25,"date":"2020-11-23","u":36.7},{"m":25,"date":"2020-11-24","u":36.8},{"m":25,"date":"2020-11-25","u":39.2},{"m":25,"date":"2020-11-26","u":41.4},{"m":25,"date":"2020-11-27","u":42.0},{"m":25,"date":"2020-11-28","u":42.7},{"m":25,"date":"2020-11-29","u":44.0},{"m":25,"date":"2020-11-30","u":45.0},{"m":25,"date":"2020-12-01","u":44.5},{"m":25,"date":"2020-12-02","u":43.5},{"m":25,"date":"2020-12-03","u":43.0},{"m":25,"date":"2020-12-04","u":42.5},{"m":25,"date":"2020-12-05","u":42.0},{"m":25,"date":"2020-12-06","u":41.5},{"m":25,"date":"2020-12-07","u":42.5},{"m":25,"date":"2020-12-08","u":41.0},{"m":25,"date":"2020-12-09","u":42.5},{"m":25,"date":"2020-12-10","u":41.0},{"m":25,"date":"2020-12-11","u":40.7},{"m":25,"date":"2020-12-12","u":40.1},{"m":25,"date":"2020-12-13","u":39.0},{"m":25,"date":"2020-12-14","u":38.0},{"m":25,"date":"2020-12-15","u":38.5},{"m":25,"date":"2020-12-16","u":39.5},{"m":25,"date":"2020-12-17","u":38.0},{"m":25,"date":"2020-12-18","u":37.0},{"m":25,"date":"2020-12-19","u":36.5},{"m":25,"date":"2020-12-20","u":37.5},{"m":25,"date":"2020-12-21","u":38.0},{"m":25,"date":"2020-12-22","u":36.5},{"m":25,"date":"2020-12-23","u":35.5},{"m":25,"date":"2020-12-24","u":36.0},{"m":25,"date":"2020-12-25","u":37.0},{"m":25,"date":"2020-12-26","u":37.5},
{"m":26,"date":"2020-11-21","u":33.1},{"m":26,"date":"2020-11-22","u":34.7},{"m":26,"date":"2020-11-23","u":37.0},{"m":26,"date":"2020-11-24","u":37.1},{"m":26,"date":"2020-11-25","u":39.8},{"m":26,"date":"2020-11-26","u":42.1},{"m":26,"date":"2020-11-27","u":42.7},{"m":26,"date":"2020-11-28","u":43.7},{"m":26,"date":"2020-11-29","u":45.3},{"m":26,"date":"2020-11-30","u":46.0},{"m":26,"date":"2020-12-01","u":45.5},{"m":26,"date":"2020-12-02","u":45.0},{"m":26,"date":"2020-12-03","u":44.5},{"m":26,"date":"2020-12-04","u":44.0},{"m":26,"date":"2020-12-05","u":44.5},{"m":26,"date":"2020-12-06","u":45.0},{"m":26,"date":"2020-12-07","u":44.0},{"m":26,"date":"2020-12-08","u":43.0},{"m":26,"date":"2020-12-09","u":42.0},{"m":26,"date":"2020-12-10","u":41.5},{"m":26,"date":"2020-12-11","u":40.5},{"m":26,"date":"2020-12-12","u":40.0},{"m":26,"date":"2020-12-13","u":38.5},{"m":26,"date":"2020-12-14","u":38.4},{"m":26,"date":"2020-12-15","u":34.1},{"m":26,"date":"2020-12-16","u":33.0},{"m":26,"date":"2020-12-17","u":30.9},{"m":26,"date":"2020-12-18","u":28.3},{"m":26,"date":"2020-12-19","u":29.5},{"m":26,"date":"2020-12-20","u":32.1},{"m":26,"date":"2020-12-21","u":34.5},{"m":26,"date":"2020-12-22","u":36.5},{"m":26,"date":"2020-12-23","u":37.5},{"m":26,"date":"2020-12-24","u":36.0},{"m":26,"date":"2020-12-25","u":35.5},{"m":26,"date":"2020-12-26","u":36.5},
{"m":27,"date":"2020-11-21","u":32.9},{"m":27,"date":"2020-11-22","u":34.5},{"m":27,"date":"2020-11-23","u":36.8},{"m":27,"date":"2020-11-24","u":36.9},{"m":27,"date":"2020-11-25","u":39.4},{"m":27,"date":"2020-11-26","u":41.6},{"m":27,"date":"2020-11-27","u":42.2},{"m":27,"date":"2020-11-28","u":43.0},{"m":27,"date":"2020-11-29","u":44.4},{"m":27,"date":"2020-11-30","u":45.5},{"m":27,"date":"2020-12-01","u":45.0},{"m":27,"date":"2020-12-02","u":44.0},{"m":27,"date":"2020-12-03","u":43.5},{"m":27,"date":"2020-12-04","u":43.0},{"m":27,"date":"2020-12-05","u":42.0},{"m":27,"date":"2020-12-06","u":41.0},{"m":27,"date":"2020-12-07","u":40.5},{"m":27,"date":"2020-12-08","u":40.0},{"m":27,"date":"2020-12-09","u":41.0},{"m":27,"date":"2020-12-10","u":40.0},{"m":27,"date":"2020-12-11","u":39.5},{"m":27,"date":"2020-12-12","u":38.5},{"m":27,"date":"2020-12-13","u":37.8},{"m":27,"date":"2020-12-14","u":36.5},{"m":27,"date":"2020-12-15","u":35.5},{"m":27,"date":"2020-12-16","u":35.0},{"m":27,"date":"2020-12-17","u":34.5},{"m":27,"date":"2020-12-18","u":35.0},{"m":27,"date":"2020-12-19","u":34.0},{"m":27,"date":"2020-12-20","u":33.2},{"m":27,"date":"2020-12-21","u":29.0},{"m":27,"date":"2020-12-22","u":25.2},{"m":27,"date":"2020-12-23","u":23.5},{"m":27,"date":"2020-12-24","u":23.4},{"m":27,"date":"2020-12-25","u":26.2},{"m":27,"date":"2020-12-26","u":25.5},
{"m":28,"date":"2020-11-21","u":33.0},{"m":28,"date":"2020-11-22","u":34.6},{"m":28,"date":"2020-11-23","u":36.9},{"m":28,"date":"2020-11-24","u":37.0},{"m":28,"date":"2020-11-25","u":39.6},{"m":28,"date":"2020-11-26","u":41.9},{"m":28,"date":"2020-11-27","u":42.5},{"m":28,"date":"2020-11-28","u":43.4},{"m":28,"date":"2020-11-29","u":44.9},{"m":28,"date":"2020-11-30","u":46.5},{"m":28,"date":"2020-12-01","u":46.0},{"m":28,"date":"2020-12-02","u":45.5},{"m":28,"date":"2020-12-03","u":46.5},{"m":28,"date":"2020-12-04","u":45.5},{"m":28,"date":"2020-12-05","u":44.5},{"m":28,"date":"2020-12-06","u":43.5},{"m":28,"date":"2020-12-07","u":42.5},{"m":28,"date":"2020-12-08","u":43.5},{"m":28,"date":"2020-12-09","u":42.5},{"m":28,"date":"2020-12-10","u":41.0},{"m":28,"date":"2020-12-11","u":42.0},{"m":28,"date":"2020-12-12","u":41.0},{"m":28,"date":"2020-12-13","u":39.5},{"m":28,"date":"2020-12-14","u":37.5},{"m":28,"date":"2020-12-15","u":36.0},{"m":28,"date":"2020-12-16","u":35.5},{"m":28,"date":"2020-12-17","u":36.5},{"m":28,"date":"2020-12-18","u":37.5},{"m":28,"date":"2020-12-19","u":36.0},{"m":28,"date":"2020-12-20","u":34.5},{"m":28,"date":"2020-12-21","u":31.0},{"m":28,"date":"2020-12-22","u":28.1},{"m":28,"date":"2020-12-23","u":26.3},{"m":28,"date":"2020-12-24","u":27.5},{"m":28,"date":"2020-12-25","u":29.8},{"m":28,"date":"2020-12-26","u":31.8},
{"m":29,"date":"2020-11-21","u":32.8},{"m":29,"date":"2020-11-22","u":34.4},{"m":29,"date":"2020-11-23","u":36.7},{"m":29,"date":"2020-11-24","u":36.8},{"m":29,"date":"2020-11-25","u":39.2},{"m":29,"date":"2020-11-26","u":41.4},{"m":29,"date":"2020-11-27","u":42.0},{"m":29,"date":"2020-11-28","u":42.7},{"m":29,"date":"2020-11-29","u":44.0},{"m":29,"date":"2020-11-30","u":44.5},{"m":29,"date":"2020-12-01","u":44.0},{"m":29,"date":"2020-12-02","u":44.5},{"m":29,"date":"2020-12-03","u":44.0},{"m":29,"date":"2020-12-04","u":43.0},{"m":29,"date":"2020-12-05","u":44.0},{"m":29,"date":"2020-12-06","u":45.0},{"m":29,"date":"2020-12-07","u":44.0},{"m":29,"date":"2020-12-08","u":42.5},{"m":29,"date":"2020-12-09","u":41.0},{"m":29,"date":"2020-12-10","u":40.9},{"m":29,"date":"2020-12-11","u":40.7},{"m":29,"date":"2020-12-12","u":39.5},{"m":29,"date":"2020-12-13","u":37.8},{"m":29,"date":"2020-12-14","u":35.5},{"m":29,"date":"2020-12-15","u":34.0},{"m":29,"date":"2020-12-16","u":33.8},{"m":29,"date":"2020-12-17","u":34.5},{"m":29,"date":"2020-12-18","u":36.0},{"m":29,"date":"2020-12-19","u":37.5},{"m":29,"date":"2020-12-20","u":36.0},{"m":29,"date":"2020-12-21","u":34.5},{"m":29,"date":"2020-12-22","u":33.0},{"m":29,"date":"2020-12-23","u":31.5},{"m":29,"date":"2020-12-24","u":32.5},{"m":29,"date":"2020-12-25","u":33.5},{"m":29,"date":"2020-12-26","u":34.0},
{"m":30,"date":"2020-11-21","u":33.2},{"m":30,"date":"2020-11-22","u":34.7},{"m":30,"date":"2020-11-23","u":37.1},{"m":30,"date":"2020-11-24","u":37.2},{"m":30,"date":"2020-11-25","u":40.0},{"m":30,"date":"2020-11-26","u":42.3},{"m":30,"date":"2020-11-27","u":42.9},{"m":30,"date":"2020-11-28","u":44.0},{"m":30,"date":"2020-11-29","u":45.7},{"m":30,"date":"2020-11-30","u":47.0},{"m":30,"date":"2020-12-01","u":46.0},{"m":30,"date":"2020-12-02","u":45.5},{"m":30,"date":"2020-12-03","u":46.0},{"m":30,"date":"2020-12-04","u":47.0},{"m":30,"date":"2020-12-05","u":46.0},{"m":30,"date":"2020-12-06","u":45.0},{"m":30,"date":"2020-12-07","u":43.5},{"m":30,"date":"2020-12-08","u":42.0},{"m":30,"date":"2020-12-09","u":43.0},{"m":30,"date":"2020-12-10","u":42.0},{"m":30,"date":"2020-12-11","u":41.0},{"m":30,"date":"2020-12-12","u":42.5},{"m":30,"date":"2020-12-13","u":41.0},{"m":30,"date":"2020-12-14","u":39.0},{"m":30,"date":"2020-12-15","u":38.0},{"m":30,"date":"2020-12-16","u":36.5},{"m":30,"date":"2020-12-17","u":35.0},{"m":30,"date":"2020-12-18","u":36.5},{"m":30,"date":"2020-12-19","u":38.0},{"m":30,"date":"2020-12-20","u":39.0},{"m":30,"date":"2020-12-21","u":37.5},{"m":30,"date":"2020-12-22","u":36.0},{"m":30,"date":"2020-12-23","u":34.5},{"m":30,"date":"2020-12-24","u":33.5},{"m":30,"date":"2020-12-25","u":34.5},{"m":30,"date":"2020-12-26","u":35.0},
{"m":31,"date":"2020-11-21","u":33.0},{"m":31,"date":"2020-11-22","u":34.6},{"m":31,"date":"2020-11-23","u":36.9},{"m":31,"date":"2020-11-24","u":37.0},{"m":31,"date":"2020-11-25","u":39.6},{"m":31,"date":"2020-11-26","u":41.9},{"m":31,"date":"2020-11-27","u":42.5},{"m":31,"date":"2020-11-28","u":43.4},{"m":31,"date":"2020-11-29","u":44.9},{"m":31,"date":"2020-11-30","u":46.0},{"m":31,"date":"2020-12-01","u":45.5},{"m":31,"date":"2020-12-02","u":46.0},{"m":31,"date":"2020-12-03","u":45.5},{"m":31,"date":"2020-12-04","u":44.5},{"m":31,"date":"2020-12-05","u":43.0},{"m":31,"date":"2020-12-06","u":42.5},{"m":31,"date":"2020-12-07","u":43.0},{"m":31,"date":"2020-12-08","u":44.0},{"m":31,"date":"2020-12-09","u":43.0},{"m":31,"date":"2020-12-10","u":42.0},{"m":31,"date":"2020-12-11","u":41.5},{"m":31,"date":"2020-12-12","u":40.5},{"m":31,"date":"2020-12-13","u":42.0},{"m":31,"date":"2020-12-14","u":40.5},{"m":31,"date":"2020-12-15","u":39.0},{"m":31,"date":"2020-12-16","u":37.5},{"m":31,"date":"2020-12-17","u":36.0},{"m":31,"date":"2020-12-18","u":34.5},{"m":31,"date":"2020-12-19","u":35.5},{"m":31,"date":"2020-12-20","u":37.0},{"m":31,"date":"2020-12-21","u":36.0},{"m":31,"date":"2020-12-22","u":34.5},{"m":31,"date":"2020-12-23","u":33.0},{"m":31,"date":"2020-12-24","u":32.0},{"m":31,"date":"2020-12-25","u":32.5},{"m":31,"date":"2020-12-26","u":33.0}
]
},
"layer": [
{
  "data": {"values": [{}]},
  "mark": {"type": "rule", "color": "black", "strokeWidth": 2},
  "encoding": {"y": {"datum": 0, "type": "quantitative", "scale": {"domain": [-31, 75], "nice": false, "zero": false}, "axis": {"title": "Zonal-Mean Zonal Wind (m s\u207b\u00b9)", "titleFontSize": 29, "values": [-30, -15, 0, 15, 30, 45, 60], "grid": true, "titlePadding": 29}}}
},
{
  "data": {"name": "stats"},
  "transform": [{"filter": "datum.series !== 'Ensemble mean'"}],
  "mark": {"type": "line", "strokeCap": "butt", "strokeJoin": "round"},
  "encoding": {
    "x": {"field": "date", "type": "temporal", "scale": {"type": "utc", "domain": [{"year": 2020, "month": 11, "date": 21, "utc": true}, {"year": 2020, "month": 12, "date": 26, "utc": true}]}, "axis": {"title": "Valid date (mm-dd)", "format": "%m-%d", "labelAngle": -90, "grid": true, "titlePadding": 39, "values": [{"year": 2020, "month": 11, "date": 21, "utc": true}, {"year": 2020, "month": 11, "date": 26, "utc": true}, {"year": 2020, "month": 12, "date": 1, "utc": true}, {"year": 2020, "month": 12, "date": 6, "utc": true}, {"year": 2020, "month": 12, "date": 11, "utc": true}, {"year": 2020, "month": 12, "date": 16, "utc": true}, {"year": 2020, "month": 12, "date": 21, "utc": true}, {"year": 2020, "month": 12, "date": 26, "utc": true}]}},
    "y": {"field": "u", "type": "quantitative"},
    "color": {"field": "series", "type": "nominal", "scale": {"domain": ["ERA5 mean", "ERA5 min/max", "Ensemble mean"], "range": ["#ffa500", "#a52a2a", "#000000"]}, "legend": {"orient": "none", "legendX": 200, "legendY": 13, "direction": "horizontal", "title": null, "symbolType": "M-1,0H3", "symbolSize": 576, "labelFontSize": 22, "labelColor": "black", "fillColor": "white", "strokeColor": "#cccccc", "padding": 4, "cornerRadius": 4, "columnPadding": 33, "labelOffset": 39, "labelLimit": 400}},
    "strokeDash": {"field": "series", "type": "nominal", "scale": {"domain": ["ERA5 mean", "ERA5 min/max", "Ensemble mean"], "range": [[1, 0], [4.5, 6.5], [1, 0]]}, "legend": {"orient": "none", "legendX": 200, "legendY": 13, "direction": "horizontal", "title": null, "symbolType": "M-1,0H3", "symbolSize": 576, "labelFontSize": 22, "labelColor": "black", "fillColor": "white", "strokeColor": "#cccccc", "padding": 4, "cornerRadius": 4, "columnPadding": 33, "labelOffset": 39, "labelLimit": 400}},
    "strokeWidth": {"field": "series", "type": "nominal", "scale": {"domain": ["ERA5 mean", "ERA5 min/max", "Ensemble mean"], "range": [4.5, 4.5, 6]}, "legend": {"orient": "none", "legendX": 200, "legendY": 13, "direction": "horizontal", "title": null, "symbolType": "M-1,0H3", "symbolSize": 576, "labelFontSize": 22, "labelColor": "black", "fillColor": "white", "strokeColor": "#cccccc", "padding": 4, "cornerRadius": 4, "columnPadding": 33, "labelOffset": 39, "labelLimit": 400}},
    "detail": {"field": "line", "type": "nominal"}
  }
},
{
  "data": {"name": "members"},
  "mark": {"type": "line", "color": "#0000ff", "strokeWidth": 3.3, "strokeJoin": "round"},
  "encoding": {
    "x": {"field": "date", "type": "temporal"},
    "y": {"field": "u", "type": "quantitative"},
    "detail": {"field": "m", "type": "nominal"}
  }
},
{
  "data": {"name": "stats"},
  "transform": [{"filter": "datum.series === 'Ensemble mean'"}],
  "mark": {"type": "line", "strokeCap": "butt", "strokeJoin": "round"},
  "encoding": {
    "x": {"field": "date", "type": "temporal"},
    "y": {"field": "u", "type": "quantitative"},
    "color": {"field": "series", "type": "nominal"},
    "strokeDash": {"field": "series", "type": "nominal"},
    "strokeWidth": {"field": "series", "type": "nominal"},
    "detail": {"field": "line", "type": "nominal"}
  }
},
{
  "data": {"values": [{}]},
  "mark": {"type": "text", "text": "Members with strong vortex = 31", "color": "#0000ff", "fontWeight": "bold", "fontSize": 19.5, "align": "center", "baseline": "middle", "font": "DejaVu Sans"},
  "encoding": {"x": {"datum": {"year": 2020, "month": 12, "date": 8, "hours": 12, "utc": true}, "type": "temporal"}, "y": {"datum": 81.0, "type": "quantitative"}}
},
{
  "data": {"values": [{}]},
  "mark": {"type": "text", "text": "Members with easterlies = 0", "color": "#ff0000", "fontWeight": "bold", "fontSize": 19.5, "align": "center", "baseline": "middle", "font": "DejaVu Sans"},
  "encoding": {"x": {"datum": {"year": 2020, "month": 12, "date": 8, "hours": 12, "utc": true}, "type": "temporal"}, "y": {"datum": 77.4, "type": "quantitative"}}
},
{
  "data": {"values": [{}]},
  "mark": {"type": "text", "text": "Fig. by Simon Lee", "color": "black", "fontSize": 19.5, "align": "right", "baseline": "middle", "font": "DejaVu Sans"},
  "encoding": {"x": {"datum": {"year": 2020, "month": 12, "date": 25, "hours": 14, "minutes": 40, "utc": true}, "type": "temporal"}, "y": {"datum": 79.8, "type": "quantitative"}}
}
]
}
